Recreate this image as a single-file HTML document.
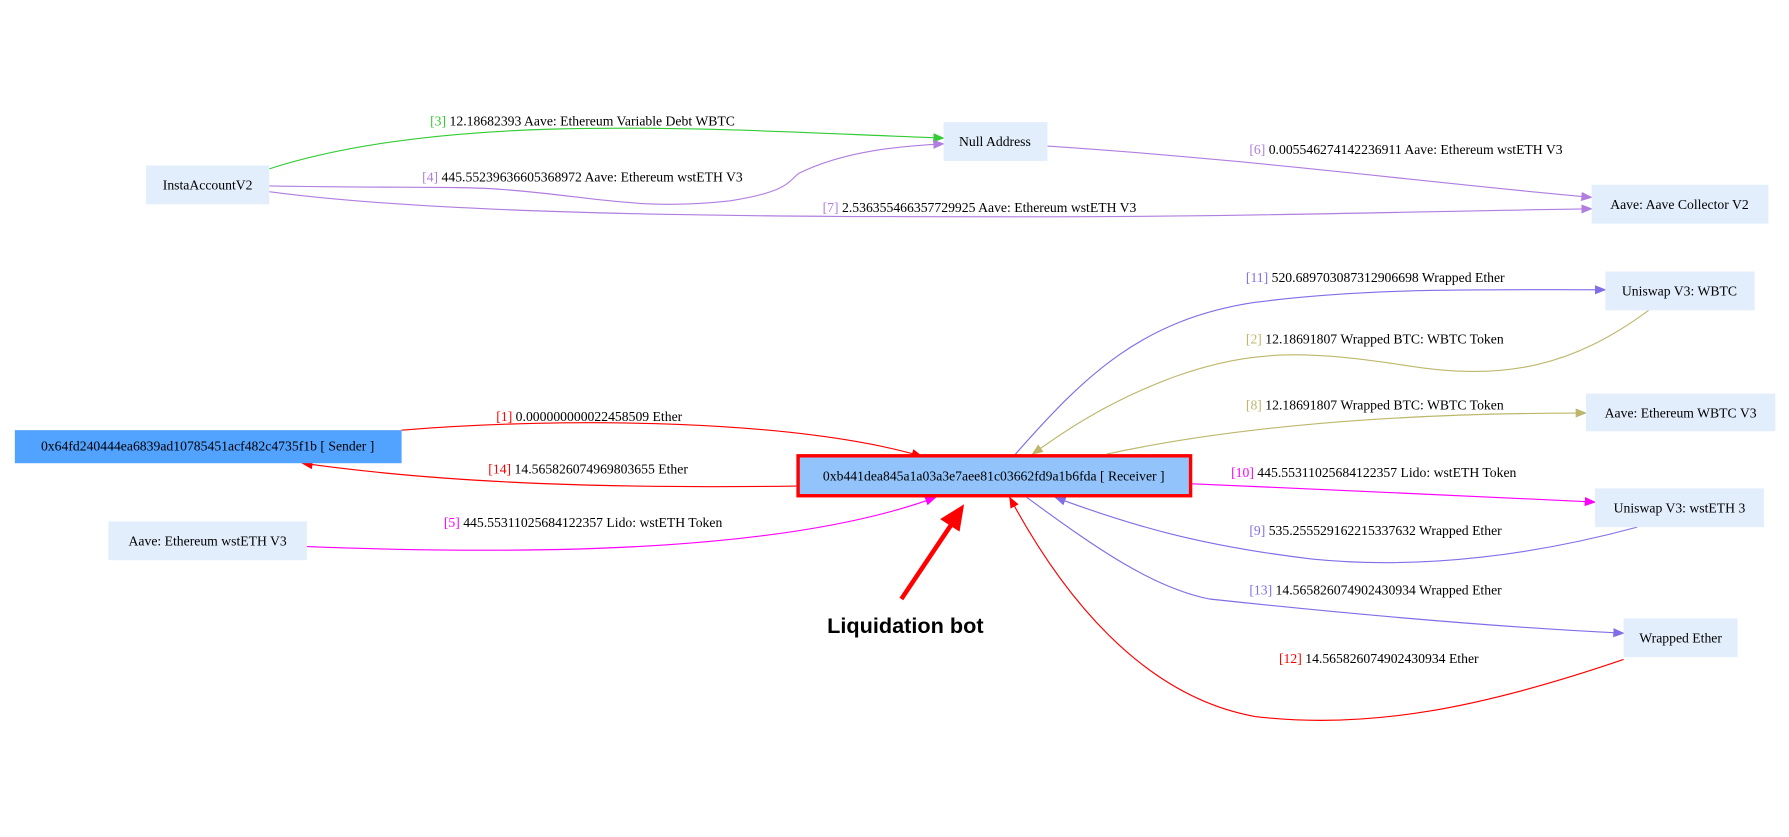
<!DOCTYPE html>
<html><head><meta charset="utf-8"><style>
html,body{margin:0;padding:0;background:#fff;}
svg{display:block;}
text{font-family:"Liberation Serif",serif;font-size:12px;fill:#000;}
</style></head><body>
<svg width="1789" height="837" viewBox="0 0 1568 733.6" preserveAspectRatio="none" xmlns="http://www.w3.org/2000/svg">
<defs>
<marker id="aG" markerWidth="10" markerHeight="8" refX="9" refY="4" orient="auto" markerUnits="userSpaceOnUse"><path d="M0,0L10,4L0,8z" fill="#33cc33"/></marker>
<marker id="aP" markerWidth="10" markerHeight="8" refX="9" refY="4" orient="auto" markerUnits="userSpaceOnUse"><path d="M0,0L10,4L0,8z" fill="#b07de0"/></marker>
<marker id="aM" markerWidth="10" markerHeight="8" refX="9" refY="4" orient="auto" markerUnits="userSpaceOnUse"><path d="M0,0L10,4L0,8z" fill="#7f6ee8"/></marker>
<marker id="aO" markerWidth="10" markerHeight="8" refX="9" refY="4" orient="auto" markerUnits="userSpaceOnUse"><path d="M0,0L10,4L0,8z" fill="#bdb76b"/></marker>
<marker id="aF" markerWidth="10" markerHeight="8" refX="9" refY="4" orient="auto" markerUnits="userSpaceOnUse"><path d="M0,0L10,4L0,8z" fill="#ff00ff"/></marker>
<marker id="aR" markerWidth="10" markerHeight="8" refX="9" refY="4" orient="auto" markerUnits="userSpaceOnUse"><path d="M0,0L10,4L0,8z" fill="#ff0000"/></marker>
</defs>
<g fill="none" stroke-width="1">
<path d="M236,148 C400,95 650,115 827,121" stroke="#33cc33" marker-end="url(#aG)"/>
<path d="M236,163 C350,165 400,163 440,166 C520,172 560,185 640,176 C690,168 690,160 700,152 C740,132 790,128 827,126" stroke="#b07de0" marker-end="url(#aP)"/>
<path d="M236,168 C400,190 700,190 900,190 C1100,190 1250,185 1395,183" stroke="#b07de0" marker-end="url(#aP)"/>
<path d="M918,128 C1100,140 1250,160 1395,173" stroke="#b07de0" marker-end="url(#aP)"/>
<path d="M890,398 C950,330 1000,280 1100,265 C1200,252 1300,254 1407,254" stroke="#7f6ee8" marker-end="url(#aM)"/>
<path d="M1445,272 C1380,320 1320,335 1230,320 C1150,308 1100,305 1030,330 C970,352 930,380 905,398" stroke="#bdb76b" marker-end="url(#aO)"/>
<path d="M970,398 C1100,370 1250,362 1390,362" stroke="#bdb76b" marker-end="url(#aO)"/>
<path d="M1045,424 C1150,428 1300,436 1398,440" stroke="#ff00ff" marker-end="url(#aF)"/>
<path d="M1435,462 C1350,485 1250,500 1150,490 C1050,478 990,460 925,436" stroke="#7f6ee8" marker-end="url(#aM)"/>
<path d="M900,436 C960,480 1010,515 1060,525 C1200,540 1320,550 1423,555" stroke="#7f6ee8" marker-end="url(#aM)"/>
<path d="M1423,578 C1300,620 1200,640 1100,628 C1000,610 930,520 885,436" stroke="#ff0000" marker-end="url(#aR)"/>
<path d="M352,377 C500,365 700,368 808,400" stroke="#ff0000" marker-end="url(#aR)"/>
<path d="M698,426 C550,428 400,425 265,406" stroke="#ff0000" marker-end="url(#aR)"/>
<path d="M269,479 C500,488 700,480 820,436" stroke="#ff00ff" marker-end="url(#aF)"/>
</g>
<!-- nodes -->
<g fill="#e3eefd">
<rect x="128" y="145" width="108" height="34"/>
<rect x="827" y="107" width="91" height="34"/>
<rect x="1395" y="162" width="155" height="34"/>
<rect x="1407" y="238" width="131" height="34"/>
<rect x="1390" y="345" width="166" height="33"/>
<rect x="1398" y="428" width="148" height="34"/>
<rect x="1423" y="542" width="100" height="34"/>
<rect x="95" y="457" width="174" height="34"/>
</g>
<rect x="13" y="377" width="339" height="29" fill="#52a2ff"/>
<rect x="699.5" y="399.5" width="344" height="35" fill="#92c4fb" stroke="#ff0000" stroke-width="3"/>
<g text-anchor="middle">
<text x="182" y="166">InstaAccountV2</text>
<text x="872" y="128">Null Address</text>
<text x="1472" y="183">Aave: Aave Collector V2</text>
<text x="1472" y="259">Uniswap V3: WBTC</text>
<text x="1473" y="366">Aave: Ethereum WBTC V3</text>
<text x="1472" y="449">Uniswap V3: wstETH 3</text>
<text x="1473" y="563">Wrapped Ether</text>
<text x="182" y="478">Aave: Ethereum wstETH V3</text>
<text x="182" y="395">0x64fd240444ea6839ad10785451acf482c4735f1b [ Sender ]</text>
<text x="871" y="421">0xb441dea845a1a03a3e7aee81c03662fd9a1b6fda [ Receiver ]</text>
</g>
<!-- labels -->
<text x="377" y="110"><tspan fill="#33cc33">[3]</tspan> 12.18682393 Aave: Ethereum Variable Debt WBTC</text>
<text x="370" y="159"><tspan fill="#b07de0">[4]</tspan> 445.55239636605368972 Aave: Ethereum wstETH V3</text>
<text x="721" y="186"><tspan fill="#b07de0">[7]</tspan> 2.536355466357729925 Aave: Ethereum wstETH V3</text>
<text x="1095" y="135"><tspan fill="#b07de0">[6]</tspan> 0.005546274142236911 Aave: Ethereum wstETH V3</text>
<text x="1092" y="247"><tspan fill="#7f6ee8">[11]</tspan> 520.689703087312906698 Wrapped Ether</text>
<text x="1092" y="301"><tspan fill="#bdb76b">[2]</tspan> 12.18691807 Wrapped BTC: WBTC Token</text>
<text x="1092" y="359"><tspan fill="#bdb76b">[8]</tspan> 12.18691807 Wrapped BTC: WBTC Token</text>
<text x="1079" y="418"><tspan fill="#ff00ff">[10]</tspan> 445.55311025684122357 Lido: wstETH Token</text>
<text x="1095" y="469"><tspan fill="#7f6ee8">[9]</tspan> 535.255529162215337632 Wrapped Ether</text>
<text x="1095" y="521"><tspan fill="#7f6ee8">[13]</tspan> 14.565826074902430934 Wrapped Ether</text>
<text x="1121" y="581"><tspan fill="#ff0000">[12]</tspan> 14.565826074902430934 Ether</text>
<text x="435" y="369"><tspan fill="#ff0000">[1]</tspan> 0.000000000022458509 Ether</text>
<text x="428" y="415"><tspan fill="#ff0000">[14]</tspan> 14.565826074969803655 Ether</text>
<text x="389" y="462"><tspan fill="#ff00ff">[5]</tspan> 445.55311025684122357 Lido: wstETH Token</text>
<!-- annotation -->
<line x1="790" y1="525" x2="835" y2="458" stroke="#ff0000" stroke-width="4"/>
<path d="M845,442 L841,466 L824,455 Z" fill="#ff0000"/>
<text x="725" y="555" style="font-family:'Liberation Sans',sans-serif;font-size:19px;font-weight:bold;">Liquidation bot</text>
</svg>
</body></html>
